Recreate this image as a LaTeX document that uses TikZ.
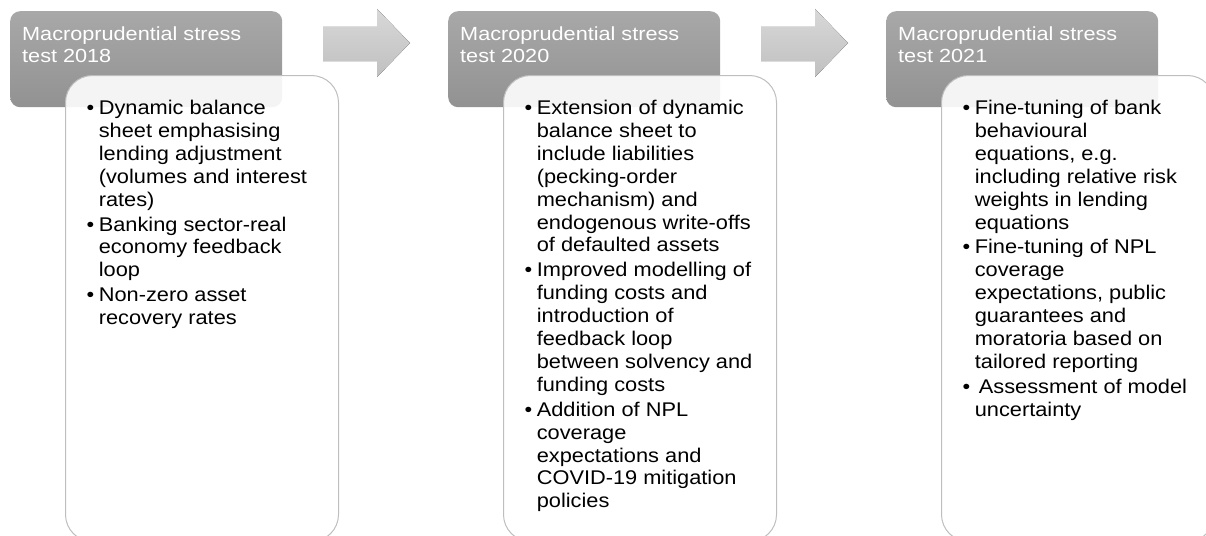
\documentclass[tikz,border=0pt]{standalone}
\usepackage{fontspec}
\setmainfont{Liberation Sans}
\newfontfamily\bodyfont[FakeStretch=1.1]{Liberation Sans}
\newfontfamily\headfont[FakeStretch=1.14]{Liberation Sans}
\usepackage{array}
\definecolor{hdtop}{RGB}{168,168,168}
\definecolor{hdbot}{RGB}{146,146,146}
\definecolor{artop}{RGB}{216,216,216}
\definecolor{arbot}{RGB}{192,192,192}
\definecolor{boxline}{RGB}{190,190,190}
\newcommand{\itemtab}[1]{\begin{tabular}[t]{@{}l@{\hspace{4.5pt}}l@{}}#1\end{tabular}}
\newcommand{\headtab}[1]{\begin{tabular}[t]{@{}l@{}}#1\end{tabular}}
\begin{document}
\begin{tikzpicture}[x=1pt,y=-1pt,
  header/.style={rounded corners=10pt, top color=hdtop, bottom color=hdbot, draw=none,
    minimum width=272pt, minimum height=96pt, anchor=north west, inner sep=0pt},
  content/.style={rounded corners=27pt, fill=white, fill opacity=0.9, draw=boxline, draw opacity=1,
    line width=1pt, minimum width=273pt, minimum height=466pt, anchor=north west, inner sep=0pt},
  arrowshape/.style={top color=artop, bottom color=arbot, draw=none},
  headtext/.style={anchor=base west, inner sep=0pt, text=white,
    font=\headfont\fontsize{19}{22.5}\selectfont},
  bodytext/.style={anchor=base west, inner sep=0pt, text=black,
    font=\bodyfont\fontsize{19.8}{22.9}\selectfont}
]
\useasboundingbox (0,0) rectangle (1206,535);

% arrows
\fill[arrowshape] (323,27) -- (377,27) -- (377,9) -- (410,43) -- (377,77) -- (377,61) -- (323,61) -- cycle;
\fill[arrowshape] (761,27) -- (815,27) -- (815,9) -- (848,43) -- (815,77) -- (815,61) -- (761,61) -- cycle;

% headers
\node[header] (h1) at (10,11) {};
\node[header] (h2) at (448,11) {};
\node[header] (h3) at (886,11) {};
\node[headtext] (t1) at (22,40.5) {\headtab{Macroprudential stress\\test 2018}};
\node[headtext] (t2) at (460,40.5) {\headtab{Macroprudential stress\\test 2020}};
\node[headtext] (t3) at (898,40.5) {\headtab{Macroprudential stress\\test 2021}};

% content boxes
\node[content] (c1) at (65,75) {};
\node[content] (c2) at (503,75) {};
\node[content] (c3) at (941,75) {};

% body texts
\node[bodytext] (b1) at (86.5,114.5) {\itemtab{%
• & Dynamic balance\\
  & sheet emphasising\\
  & lending adjustment\\
  & (volumes and interest\\
  & rates)\\[2pt]
• & Banking sector-real\\
  & economy feedback\\
  & loop\\[2pt]
• & Non-zero asset\\
  & recovery rates}};

\node[bodytext] (b2) at (524.5,114.5) {\itemtab{%
• & Extension of dynamic\\
  & balance sheet to\\
  & include liabilities\\
  & (pecking-order\\
  & mechanism) and\\
  & endogenous write-offs\\
  & of defaulted assets\\[2pt]
• & Improved modelling of\\
  & funding costs and\\
  & introduction of\\
  & feedback loop\\
  & between solvency and\\
  & funding costs\\[2pt]
• & Addition of NPL\\
  & coverage\\
  & expectations and\\
  & COVID-19 mitigation\\
  & policies}};

\node[bodytext] (b3) at (962.5,114.5) {\itemtab{%
• & Fine-tuning of bank\\
  & behavioural\\
  & equations, e.g.\\
  & including relative risk\\
  & weights in lending\\
  & equations\\[2pt]
• & Fine-tuning of NPL\\
  & coverage\\
  & expectations, public\\
  & guarantees and\\
  & moratoria based on\\
  & tailored reporting\\[2pt]
• & \hspace{4pt}Assessment of model\\
  & uncertainty}};
\end{tikzpicture}
\end{document}
